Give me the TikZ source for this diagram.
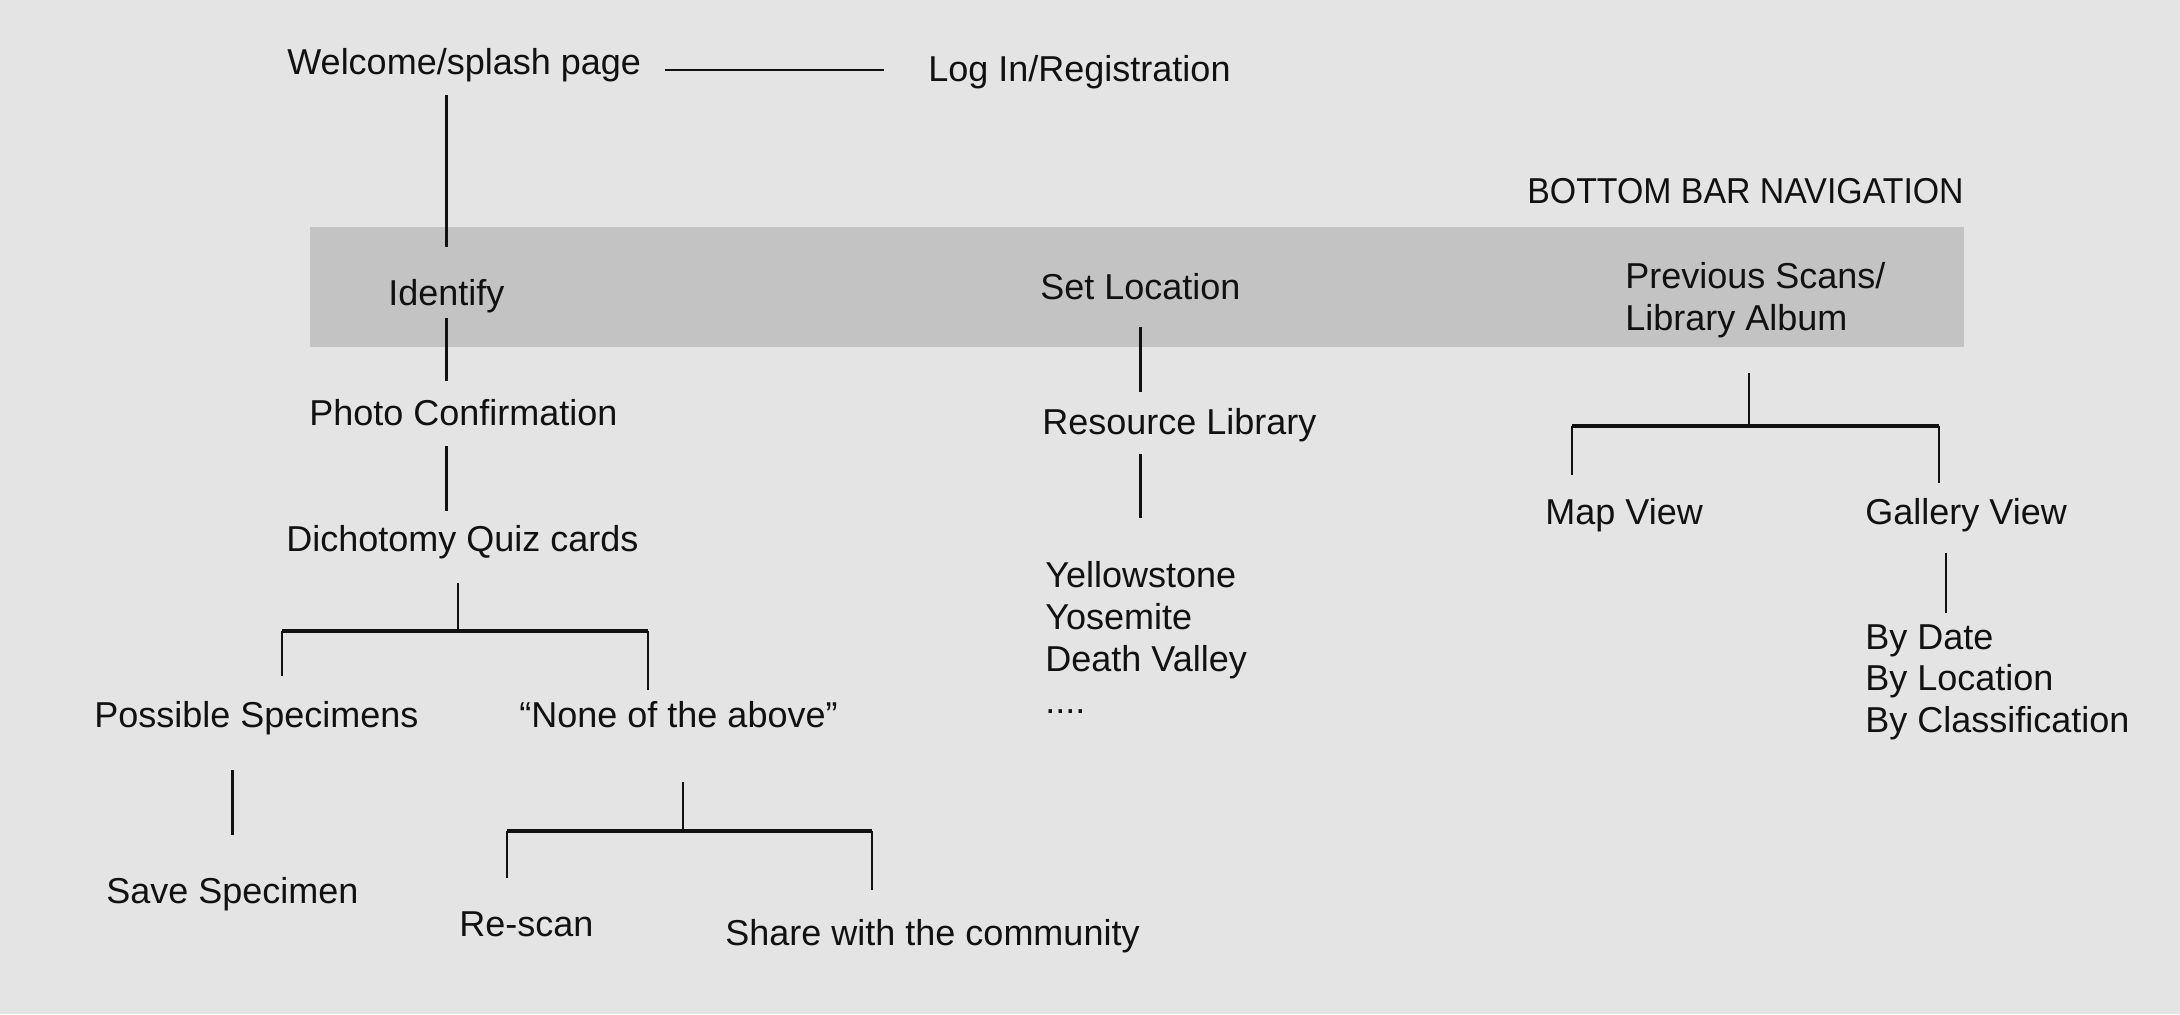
\documentclass[tikz,border=0pt]{standalone}
\usepackage{fontspec}
\setmainfont{Liberation Sans}
\definecolor{bgc}{RGB}{228,228,228}
\definecolor{barc}{RGB}{195,195,195}
\definecolor{ink}{RGB}{17,17,17}
\begin{document}
\begin{tikzpicture}[x=0.5pt,y=-0.5pt,
  lbl/.style={inner sep=0pt, anchor=west, text height=12.9pt, text depth=0pt, text=ink, font=\fontsize{18}{21}\selectfont},
  mlbl/.style={inner sep=0pt, anchor=north west, align=left, text=ink, font=\fontsize{18}{21}\selectfont},
  conn/.style={draw=ink, line width=1.35pt},
  brk/.style={draw=ink, line width=1.6pt}]
\fill[bgc] (0,0) rectangle (2180,1014);
\useasboundingbox (0,0) rectangle (2180,1014);
\fill[barc] (310,227) rectangle (1964,347);

% nodes
\node[lbl] (welcome) at (287,62) {Welcome/splash page};
\node[lbl] (login) at (928,68.5) {Log In/Registration};
\node[lbl, anchor=east] (bbn) at (1964,191) {\scalebox{0.94}[1]{BOTTOM BAR NAVIGATION}};
\node[lbl] (identify) at (388,292.5) {Identify};
\node[lbl] (setloc) at (1040,287) {Set Location};
\node[mlbl] (prev) at (1625,262) {Previous Scans/\\Library Album};
\node[lbl] (photo) at (309,413) {Photo Confirmation};
\node[lbl] (resource) at (1042,422) {Resource Library};
\node[lbl] (dicho) at (286,538.5) {Dichotomy Quiz cards};
\node[mlbl] (parks) at (1045,561) {Yellowstone\\Yosemite\\Death Valley\\....};
\node[lbl] (map) at (1545,512) {Map View};
\node[lbl] (gallery) at (1865,512) {Gallery View};
\node[mlbl, font=\fontsize{18}{20.9}\selectfont] (byl) at (1865,624) {By Date\\By Location\\By Classification};
\node[lbl] (poss) at (94,714.5) {Possible Specimens};
\node[lbl] (none) at (519,714.5) {“None of the above”};
\node[lbl] (save) at (106,891) {Save Specimen};
\node[lbl] (rescan) at (459,924) {Re-scan};
\node[lbl] (share) at (725,932.5) {Share with the community};

% junction coordinates
\coordinate (q) at (458,631);
\coordinate (ql) at (282,631);
\coordinate (qr) at (648,631);
\coordinate (r) at (683,831);
\coordinate (rl) at (507,831);
\coordinate (rr) at (872,831);
\coordinate (p) at (1749,426);
\coordinate (pl) at (1572,426);
\coordinate (pr) at (1939,426);

% connectors
\draw[conn, shorten <=12pt, shorten >=22pt] ([yshift=-4pt]welcome.east) -- ([yshift=-4pt]welcome.east -| login.west);
\draw[conn, shorten <=10pt, shorten >=16pt] (welcome.south -| identify.north) -- (identify.north);
\draw[conn, shorten <=6pt, shorten >=9.5pt] (identify.south) -- (identify.south |- photo.north);
\draw[conn, shorten <=10pt, shorten >=7pt] (identify.south |- photo.south) -- (identify.south |- dicho.north);
\draw[conn, shorten <=15.5pt] (q |- dicho.south) -- (q);
\draw[brk] (ql) -- (qr);
\draw[conn, shorten >=12.5pt] (ql) -- (ql |- poss.north);
\draw[conn, shorten >=5.5pt] (qr) -- (qr |- none.north);
\draw[conn, shorten <=21pt, shorten >=21.5pt] (save.north |- poss.south) -- (save.north);
\draw[conn, shorten <=27pt] (r |- none.south) -- (r);
\draw[brk] (rl) -- (rr);
\draw[conn, shorten >=16.5pt] (rl) -- (rl |- rescan.north);
\draw[conn, shorten >=14.5pt] (rr) -- (rr |- share.north);
\draw[conn, shorten <=13.5pt, shorten >=8.5pt] (setloc.south) -- (setloc.south |- resource.north);
\draw[conn, shorten <=9.5pt, shorten >=21.5pt] (setloc.south |- resource.south) -- (setloc.south |- parks.north);
\draw[conn, shorten <=17.5pt] (p |- prev.south) -- (p);
\draw[brk] (pl) -- (pr);
\draw[conn, shorten >=12pt] (pl) -- (pl |- map.north);
\draw[conn, shorten >=8pt] (pr) -- (pr |- gallery.north);
\draw[conn, shorten <=14pt, shorten >=5.5pt] ([xshift=-10pt]gallery.south) -- ([xshift=-10pt]gallery.south |- byl.north);
\end{tikzpicture}
\end{document}
